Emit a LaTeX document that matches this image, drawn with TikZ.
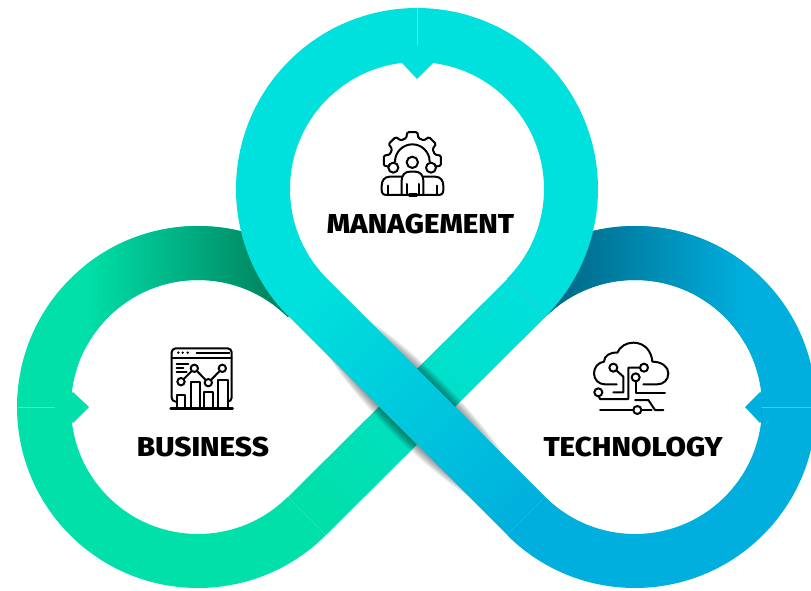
\documentclass[tikz,border=0pt]{standalone}
\usepackage{fontspec}
\newfontfamily\labfont[FakeStretch=1.085]{Fira Sans ExtraBold}
\definecolor{ringgreen}{RGB}{0,224,168}
\definecolor{ringteal}{RGB}{0,224,220}
\definecolor{ringblue}{RGB}{0,175,222}
\definecolor{darkgreen}{RGB}{0,122,88}
\definecolor{darkblue}{RGB}{0,100,130}
\tikzset{
  x=0.75pt,y=0.75pt,
  iconline/.style={line width=1.5pt,black,line join=round,line cap=round},
  iconplane/.style={x=0.25pt,y=-0.25pt},
  seam/.style={line width=0.35pt,opacity=0.3},
  caption/.style={font=\labfont\fontsize{20.5}{24}\selectfont,text=black,inner sep=0pt},
}
\newcommand{\ringsector}[5]{% cx cy a1 a2 : sector of the band
  [shift={(#1,#2)}] (#3:181) arc[start angle=#3,end angle=#4,radius=181]
  -- (#4:127) arc[start angle=#4,end angle=#3,radius=127] -- cycle #5}
\begin{document}
\begin{tikzpicture}
\useasboundingbox (0,0) rectangle (811,590);

% ---- left ring
\path[fill=ringgreen] \ringsector{198}{183}{-45}{-315}{};
\path[fill=ringgreen] (73,198) -- (89,183) -- (73,167) -- (60,183) -- cycle;
\begin{scope}
  \clip \ringsector{198}{183}{180}{45}{};
  \shade[left color=ringgreen,right color=darkgreen] (85,180) rectangle (292,370);
\end{scope}
\draw[seam,white] (18,183) -- (55,183);

% ---- right ring
\path[fill=ringblue] \ringsector{635}{183}{225}{495}{};
\path[fill=ringblue] (760,198) -- (745,183) -- (760,167) -- (775,183) -- cycle;
\begin{scope}
  \clip \ringsector{635}{183}{0}{135}{};
  \shade[left color=darkblue,right color=ringblue] (548,180) rectangle (745,370);
\end{scope}
\draw[seam,white] (761,183) -- (811,183);
\draw[seam,black!60] (761,183) -- (761,172);

% ---- rising strand
\begin{scope}
  \clip (288.2,93.2) -- (326.2,55.2) -- (545.2,272.8) -- (507.2,310.8) -- cycle;
  \shade[bottom color=ringgreen,top color=ringteal,shading angle=-45] (263,29) rectangle (571,337);
\end{scope}
\draw[seam,black!45] (288.2,93.2) -- (326.2,55.2);
\draw[seam,black!45] (507.2,310.8) -- (545.2,272.8);

% ---- soft shadow of the falling strand
\begin{scope}[shift={(417,183)},rotate=-45]
  \foreach \d in {1,2,3,4,5,6,7,8,9}{
    \fill[black,opacity=0.055] (0,0) ellipse [x radius=150,y radius=27+\d];
  }
\end{scope}

% ---- top ring and falling strand
\path[fill=ringteal] \ringsector{417}{401}{225}{-45}{};
\path[fill=ringteal] (402,527) -- (417,511) -- (433,527) -- (417,542) -- cycle;
\draw[seam,white] (417,582) -- (417,545);
\begin{scope}
  \clip (327.2,311.2) -- (289.2,273.2) -- (507.2,55.2) -- (545.2,93.2) -- cycle;
  \shade[bottom color=ringteal,top color=ringblue,shading angle=225] (263,29) rectangle (571,337);
\end{scope}
\draw[seam,black!45] (327.2,311.2) -- (289.2,273.2);
\draw[seam,black!45] (507.2,55.2) -- (545.2,93.2);

% ---- labels
\node[caption] (management) at (420.5,366.3) {MANAGEMENT};
\node[caption] (business) at (203,143.3) {BUSINESS};
\node[caption] (technology) at (633,143.3) {TECHNOLOGY};

% ---- management icon
\begin{scope}[shift={(360,470)},iconplane,iconline]
  \draw[rounded corners=1pt] (157,122)+(170:70)
    \foreach \a in {180,225,270,315,360}{
      -- +(\a-15:70) -- +(\a-10:87) -- +(\a+10:87) -- +(\a+15:70)
    } -- +(370:70);
  \draw (105,125) arc[start angle=180,end angle=360,radius=52];
  \draw (157,127) circle[radius=17];
  \draw (100,143) circle[radius=15];
  \draw (213,143) circle[radius=15];
  \draw (125,225) -- (125,182) .. controls (125,165) and (135,155) .. (150,155)
     -- (165,155) .. controls (180,155) and (190,165) .. (190,182) -- (190,225);
  \draw (125,170) -- (90,170) .. controls (73,170) and (65,182) .. (65,198) -- (65,210)
     .. controls (65,220) and (70,225) .. (80,225) -- (235,225)
     .. controls (245,225) and (250,220) .. (250,210) -- (250,198)
     .. controls (250,182) and (242,170) .. (225,170) -- (190,170);
  \draw (85,197) -- (85,225);
  \draw (142,192) -- (142,225);
  \draw (176,192) -- (176,225);
  \draw (231,197) -- (231,225);
  \draw[line width=2.4pt] (149,225) -- (169,225);
\end{scope}

% ---- business icon
\begin{scope}[shift={(150,255)},iconplane,iconline]
  \draw[rounded corners=3pt] (80,200) -- (65,200) -- (65,40) -- (245,40) -- (245,200) -- (233,200);
  \draw (65,70) -- (245,70);
  \foreach \u in {85,98,113}{\fill (\u,53) circle[radius=4];}
  \draw (140,53) -- (238,53);
  \draw (80,88) -- (115,88);
  \draw (80,100) -- (100,100);
  \draw (80,112) -- (110,112);
  \draw (82,220) -- (82,180) -- (105,180) -- (105,220);
  \draw (122,220) -- (122,140) -- (150,140) -- (150,220);
  \draw (162,220) -- (162,170) -- (190,170) -- (190,220);
  \draw (205,220) -- (205,135) -- (233,135) -- (233,220);
  \draw (93,140) -- (133,100) -- (175,143) -- (217,100);
  \foreach \u/\v in {93/140,133/100,175/143,217/100}{
    \draw[fill=white] (\u,\v) circle[radius=11];
  }
  \draw[line width=1.8pt] (62,220) -- (248,220);
\end{scope}

% ---- technology icon
\begin{scope}[shift={(580,260)},iconplane,iconline]
  \draw (110,163) -- (75,163) .. controls (55,163) and (42,148) .. (42,130)
    .. controls (42,112) and (55,97) .. (72,95)
    .. controls (72,78) and (90,66) .. (112,68)
    .. controls (120,50) and (138,38) .. (160,38)
    .. controls (195,38) and (215,65) .. (217,95)
    .. controls (245,95) and (265,110) .. (265,130)
    .. controls (265,150) and (250,163) .. (232,163) -- (190,163);
  \draw (110,122) -- (130,140) -- (130,187) -- (100,187);
  \draw (180,113) -- (145,113) -- (145,207) -- (60,207) -- (56,198);
  \draw (167,154) -- (167,190) -- (255,190);
  \draw (165,210) -- (205,210) -- (225,240) -- (250,240);
  \draw (60,240) -- (160,240);
  \draw (184,240) -- (215,240);
  \draw (100,113) circle[radius=12];
  \draw (192,113) circle[radius=12];
  \draw (167,142) circle[radius=12];
  \draw (55,187) circle[radius=12];
  \draw (172,240) circle[radius=12];
\end{scope}
\end{tikzpicture}
\end{document}
